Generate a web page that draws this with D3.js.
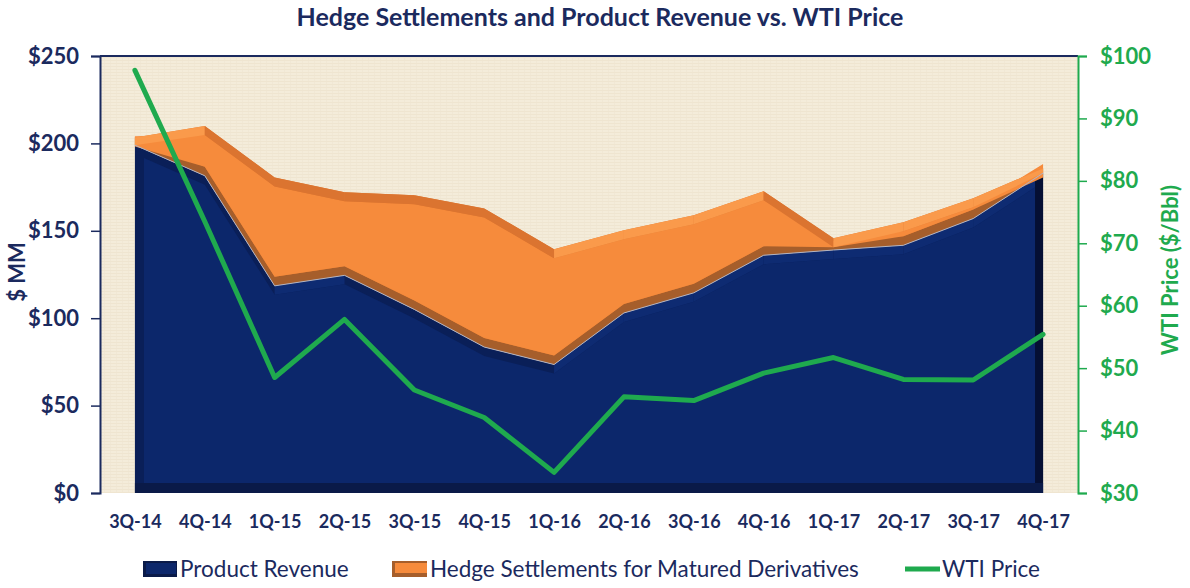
<!DOCTYPE html>
<html>
<head>
<meta charset="utf-8">
<script src="https://cdnjs.cloudflare.com/ajax/libs/d3/7.8.5/d3.min.js"></script>
<style>
  body { margin: 0; background: #fff; }
  svg { display: block; }
  svg text { font-family: Lato, "Open Sans", sans-serif; }
</style>
</head>
<body>
<svg width="1190" height="588"></svg>
<script>
(function() {

  var quarters = ['3Q-14', '4Q-14', '1Q-15', '2Q-15', '3Q-15', '4Q-15', '1Q-16',
                  '2Q-16', '3Q-16', '4Q-16', '1Q-17', '2Q-17', '3Q-17', '4Q-17'];
  // $MM
  var productRevenue = [199, 181.5, 118.5, 124.5, 105, 83.5, 73.5, 103, 114.5, 136, 139, 141.7, 157, 183];
  var hedgeSettlements = [4.4, 28.5, 62, 47.5, 65.3, 79.3, 65.9, 47.3, 44.4, 36.6, 6.7, 13.2, 11.6, 2.7];
  // $/Bbl
  var wtiPrice = [97.7, 73.5, 48.5, 57.8, 46.5, 42.1, 33.3, 45.4, 44.8, 49.2, 51.7, 48.2, 48.1, 55.4];

  var leftTicks = [0, 50, 100, 150, 200, 250];
  var rightTicks = [30, 40, 50, 60, 70, 80, 90, 100];

  var navyText = '#1b2a5e';
  var green = '#1faa4e';
  var depth = 9;

  var svg = d3.select('svg');
  var left = 100, right = 1078, top = 56, bottom = 493;

  var x = d3.scalePoint().domain(quarters).range([left, right]).padding(0.5);
  var y = d3.scaleLinear().domain([0, 250]).range([bottom, top]);
  var y2 = d3.scaleLinear().domain([30, 100]).range([bottom, top]);

  var rows = quarters.map(function(q, i) {
    return {q: q, prod: productRevenue[i], total: productRevenue[i] + hedgeSettlements[i], wti: wtiPrice[i]};
  });

  // parchment background
  var defs = svg.append('defs');
  var pat = defs.append('pattern').attr('id', 'paper')
    .attr('patternUnits', 'userSpaceOnUse').attr('width', 6).attr('height', 6);
  pat.append('rect').attr('width', 6).attr('height', 6).attr('fill', '#f4ecda');
  pat.append('path').attr('d', 'M0 0.5H6M0 3.5H6').attr('stroke', '#ece2cc').attr('stroke-width', 0.7);
  pat.append('path').attr('d', 'M2.5 0V6').attr('stroke', '#efe6d1').attr('stroke-width', 0.6);

  svg.append('rect').attr('x', left).attr('y', top)
    .attr('width', right - left).attr('height', bottom - top)
    .attr('fill', 'url(#paper)');

  var x0 = x(quarters[0]), xN = x(quarters[quarters.length - 1]);

  // ---- product revenue (navy) ----
  var navyArea = d3.area()
    .x(function(d) { return x(d.q); })
    .y0(bottom)
    .y1(function(d) { return y(d.prod); });

  svg.append('path').datum(rows).attr('d', navyArea).attr('fill', '#0a1f58');

  // right and bottom bevel strips (darkest)
  svg.append('rect').attr('x', xN - 8).attr('y', y(rows[rows.length - 1].prod))
    .attr('width', 8).attr('height', bottom - y(rows[rows.length - 1].prod))
    .attr('fill', '#050f33');
  svg.append('rect').attr('x', x0).attr('y', bottom - 10)
    .attr('width', xN - x0).attr('height', 10).attr('fill', '#0a1a48');

  defs.append('clipPath').attr('id', 'navyInner').append('rect')
    .attr('x', x0 + 9).attr('y', top).attr('width', xN - x0 - 17).attr('height', bottom - 10 - top);

  svg.append('path').datum(rows)
    .attr('d', d3.area()
      .x(function(d) { return x(d.q); })
      .y0(bottom)
      .y1(function(d) { return y(d.prod) + depth; }))
    .attr('clip-path', 'url(#navyInner)')
    .attr('fill', '#0c276b');

  // top bevel of navy: ascending segments lighter
  rows.slice(0, -1).forEach(function(d, i) {
    var n = rows[i + 1];
    if (n.prod > d.prod) {
      svg.append('path')
        .attr('d', d3.line()([[x(d.q), y(d.prod)], [x(n.q), y(n.prod)],
                             [x(n.q), y(n.prod) + depth], [x(d.q), y(d.prod) + depth]]) + 'Z')
        .attr('clip-path', 'url(#navyInner)')
        .attr('fill', '#0e2b72');
    }
  });

  // ---- hedge settlements (orange) ----
  var orangeArea = d3.area()
    .x(function(d) { return x(d.q); })
    .y0(function(d) { return y(d.prod); })
    .y1(function(d) { return y(d.total); });
  svg.append('path').datum(rows).attr('d', orangeArea).attr('fill', '#e07a33');

  // brown lower bevel
  svg.append('path').datum(rows)
    .attr('d', d3.area()
      .x(function(d) { return x(d.q); })
      .y0(function(d) { return y(d.prod); })
      .y1(function(d) { return Math.max(y(d.total), y(d.prod) - depth); }))
    .attr('fill', '#a65e2b');

  // main face
  svg.append('path').datum(rows)
    .attr('d', d3.area()
      .x(function(d) { return x(d.q); })
      .y0(function(d) { return Math.max(y(d.total) + depth, y(d.prod) - depth); })
      .y1(function(d) { return Math.min(y(d.total) + depth, y(d.prod) - depth); }))
    .attr('fill', '#f68b3c');

  // top bevel per segment
  rows.slice(0, -1).forEach(function(d, i) {
    var n = rows[i + 1];
    var h1 = Math.min(depth, y(d.prod) - y(d.total)), h2 = Math.min(depth, y(n.prod) - y(n.total));
    svg.append('path')
      .attr('d', d3.line()([[x(d.q), y(d.total)], [x(n.q), y(n.total)],
                           [x(n.q), y(n.total) + h2], [x(d.q), y(d.total) + h1]]) + 'Z')
      .attr('fill', n.total > d.total ? '#fa9a4b' : '#db7430');
  });

  // thin highlight on the navy edge
  svg.append('path').datum(rows)
    .attr('d', d3.line().x(function(d) { return x(d.q); }).y(function(d) { return y(d.prod); }))
    .attr('fill', 'none').attr('stroke', '#b0b4c4').attr('stroke-width', 1);

  // ---- WTI line ----
  svg.append('path').datum(rows)
    .attr('d', d3.line().x(function(d) { return x(d.q); }).y(function(d) { return y2(d.wti); }))
    .attr('fill', 'none').attr('stroke', green).attr('stroke-width', 5)
    .attr('stroke-linecap', 'round').attr('stroke-linejoin', 'round');

  // ---- axes ----
  svg.append('line').attr('x1', left).attr('x2', right).attr('y1', top).attr('y2', top)
    .attr('stroke', '#1b2a5e').attr('stroke-width', 2);

  var yAxis = svg.append('g').attr('transform', 'translate(' + left + ',0)')
    .call(d3.axisLeft(y).tickValues(leftTicks).tickSize(9).tickPadding(12)
      .tickFormat(function(d) { return '$' + d; }));
  yAxis.attr('font-family', null);
  yAxis.select('.domain').attr('stroke', '#1b2a5e').attr('stroke-width', 2);
  yAxis.selectAll('.tick line').attr('stroke', '#1b2a5e').attr('stroke-width', 1.5);
  yAxis.selectAll('text').attr('fill', navyText).style('font-size', '22px').style('font-weight', 'bold');

  var y2Axis = svg.append('g').attr('transform', 'translate(' + right + ',0)')
    .call(d3.axisRight(y2).tickValues(rightTicks).tickSize(9).tickPadding(13)
      .tickFormat(function(d) { return '$' + d; }));
  y2Axis.attr('font-family', null);
  y2Axis.select('.domain').attr('stroke', green).attr('stroke-width', 2);
  y2Axis.selectAll('.tick line').attr('stroke', green).attr('stroke-width', 1.5);
  y2Axis.selectAll('text').attr('fill', green).style('font-size', '22px').style('font-weight', 'bold');

  var xAxis = svg.append('g').attr('transform', 'translate(0,' + bottom + ')')
    .call(d3.axisBottom(x).tickSize(0).tickPadding(22));
  xAxis.attr('font-family', null);
  xAxis.select('.domain').remove();
  xAxis.selectAll('text').attr('fill', navyText).style('font-size', '18px').style('font-weight', 'bold');

  // ---- titles ----
  svg.append('text').attr('x', 600).attr('y', 26).attr('text-anchor', 'middle')
    .attr('fill', navyText).style('font-size', '25px').style('font-weight', 'bold')
    .text('Hedge Settlements and Product Revenue vs. WTI Price');

  svg.append('text').attr('transform', 'translate(25,272) rotate(-90)')
    .attr('text-anchor', 'middle').attr('fill', navyText)
    .style('font-size', '22px').style('font-weight', 'bold').text('$ MM');

  svg.append('text').attr('transform', 'translate(1178,270) rotate(-90)')
    .attr('text-anchor', 'middle').attr('fill', green)
    .style('font-size', '22px').style('font-weight', 'bold').text('WTI Price ($/Bbl)');

  // ---- legend ----
  var lg = svg.append('g').attr('transform', 'translate(0,569)');
  lg.append('rect').attr('x', 143).attr('y', -8).attr('width', 34).attr('height', 16).attr('fill', '#0a1a48');
  lg.append('rect').attr('x', 146).attr('y', -6).attr('width', 30).attr('height', 11).attr('fill', '#0c276b');
  lg.append('text').attr('x', 180).attr('y', 8).attr('fill', navyText).style('font-size', '22.5px')
    .text('Product Revenue');

  lg.append('rect').attr('x', 392).attr('y', -8).attr('width', 35).attr('height', 16).attr('fill', '#a65e2b');
  lg.append('rect').attr('x', 395).attr('y', -6).attr('width', 32).attr('height', 10).attr('fill', '#f68b3c');
  lg.append('text').attr('x', 430).attr('y', 8).attr('fill', navyText).style('font-size', '22.5px')
    .text('Hedge Settlements for Matured Derivatives');

  lg.append('line').attr('x1', 905).attr('x2', 940).attr('y1', 0).attr('y2', 0)
    .attr('stroke', green).attr('stroke-width', 5);
  lg.append('text').attr('x', 942).attr('y', 8).attr('fill', navyText).style('font-size', '22.5px')
    .text('WTI Price');

})();
</script>
</body>
</html>
